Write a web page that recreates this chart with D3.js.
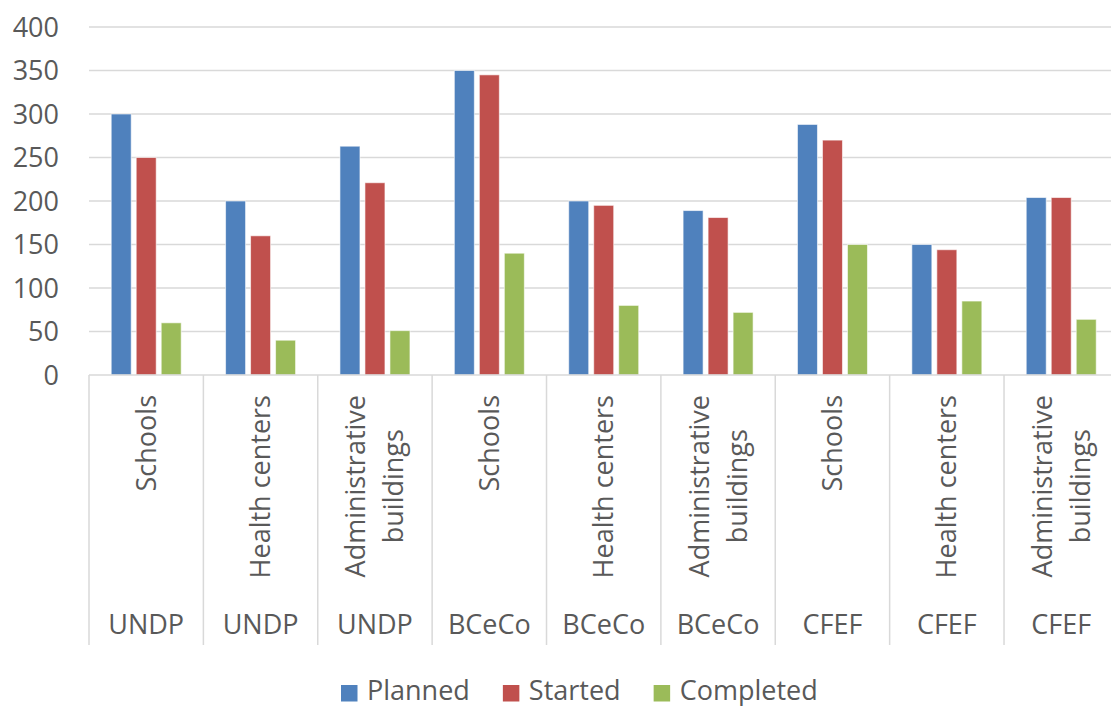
<!DOCTYPE html>
<html>
<head>
<meta charset="utf-8">
<script src="https://cdn.jsdelivr.net/npm/d3@7"></script>
<style>
  html, body { margin: 0; padding: 0; background: #fff; }
  svg { display: block; }
  text { font-family: "Open Sans", "Noto Sans", sans-serif; fill: #595959; }
</style>
</head>
<body>
<svg id="chart" width="1111" height="706"></svg>
<script>
// ---- data ----
const organisations = ["UNDP", "UNDP", "UNDP", "BCeCo", "BCeCo", "BCeCo", "CFEF", "CFEF", "CFEF"];
const facilities = ["Schools", "Health centers", "Administrative\nbuildings",
                    "Schools", "Health centers", "Administrative\nbuildings",
                    "Schools", "Health centers", "Administrative\nbuildings"];
const seriesNames = ["Planned", "Started", "Completed"];
const planned   = [300, 200, 263, 350, 200, 189, 288, 150, 204];
const started   = [250, 160, 221, 345, 195, 181, 270, 144, 204];
const completed = [ 60,  40,  51, 140,  80,  72, 150,  85,  64];
const yTicks = [0, 50, 100, 150, 200, 250, 300, 350, 400];
const colors = ["#4F81BD", "#C0504D", "#9BBB59"];

const seriesValues = [planned, started, completed];
const groups = organisations.map((o, i) => ({
  key: i, org: o, facility: facilities[i],
  values: seriesNames.map((s, j) => ({ series: s, value: seriesValues[j][i] }))
}));

// ---- layout ----
const svg = d3.select("#chart");
const plotLeft = 89, plotRight = 1118.4, plotTop = 27, plotBottom = 375;
const labelBottom = 645;
const fs = 27;

const x0 = d3.scaleBand().domain(groups.map(g => g.key)).range([plotLeft, plotRight]).padding(0);
const x1 = d3.scaleBand().domain(seriesNames).range([22.2, 92.2]).paddingInner(0.2).paddingOuter(0);
const y = d3.scaleLinear().domain([0, 400]).range([plotBottom, plotTop]);
const color = d3.scaleOrdinal().domain(seriesNames).range(colors);

// gridlines
svg.append("g").selectAll("line").data(yTicks.filter(t => t > 0)).join("line")
  .attr("x1", plotLeft).attr("x2", 1111)
  .attr("y1", d => y(d)).attr("y2", d => y(d))
  .attr("stroke", "#d9d9d9").attr("stroke-width", 1.5);

// y axis labels
const yAxis = d3.axisLeft(y).tickValues(yTicks).tickSize(0).tickPadding(0).tickFormat(d3.format("d"));
const yg = svg.append("g").attr("transform", "translate(59,0)").call(yAxis);
yg.select(".domain").remove();
yg.selectAll("text").attr("font-size", fs).attr("fill", "#595959")
  .style("font-family", '"Open Sans", sans-serif').attr("dy", "0.35em");

// bars
const gg = svg.append("g").selectAll("g").data(groups).join("g")
  .attr("transform", d => `translate(${x0(d.key)},0)`);
gg.selectAll("rect").data(d => d.values).join("rect")
  .attr("x", d => x1(d.series))
  .attr("width", x1.bandwidth())
  .attr("y", d => y(d.value))
  .attr("height", d => y(0) - y(d.value))
  .attr("fill", d => color(d.series))
  .attr("stroke", "rgba(255,255,255,0.6)")
  .attr("stroke-width", 1);

// category axis line and separators
svg.append("line").attr("x1", plotLeft).attr("x2", plotRight).attr("y1", plotBottom).attr("y2", plotBottom)
  .attr("stroke", "#d9d9d9").attr("stroke-width", 1.5);
const seps = groups.map(g => x0(g.key)).concat([plotRight]);
svg.append("g").selectAll("line").data(seps).join("line")
  .attr("x1", d => d).attr("x2", d => d)
  .attr("y1", plotBottom).attr("y2", labelBottom)
  .attr("stroke", "#d9d9d9").attr("stroke-width", 1.5);

// rotated facility labels
const lab = svg.append("g").selectAll("g").data(groups).join("g")
  .attr("transform", d => `translate(${x0(d.key) + x0.bandwidth() / 2},395) rotate(-90)`);
lab.each(function(d) {
  const g = d3.select(this);
  const lines = d.facility.split("\n");
  const lh = 38;
  const texts = lines.map((ln, i) => g.append("text")
    .attr("font-size", fs)
    .attr("y", (i - (lines.length - 1) / 2) * lh)
    .attr("dy", "0.35em")
    .text(ln));
  const maxLen = d3.max(texts, t => t.node().getComputedTextLength());
  texts.forEach(t => t.attr("text-anchor", "middle").attr("x", -maxLen / 2));
});

// organisation labels
svg.append("g").selectAll("text").data(groups).join("text")
  .attr("x", d => x0(d.key) + x0.bandwidth() / 2)
  .attr("y", 634)
  .attr("text-anchor", "middle")
  .attr("font-size", fs)
  .text(d => d.org);

// legend
const leg = svg.append("g");
let lx = 341;
seriesNames.forEach(s => {
  leg.append("rect").attr("x", lx).attr("y", 685).attr("width", 16.5).attr("height", 16.5).attr("fill", color(s));
  const t = leg.append("text").attr("x", lx + 26).attr("y", 700).attr("font-size", fs).text(s);
  lx += 26 + t.node().getComputedTextLength() + 33;
});
</script>
</body>
</html>
